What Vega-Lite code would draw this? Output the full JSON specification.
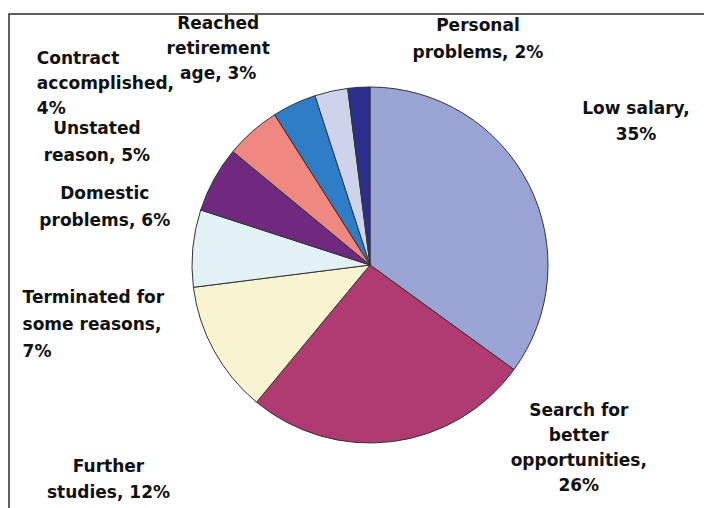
{
  "$schema": "https://vega.github.io/schema/vega-lite/v6.json",
  "width": 697,
  "height": 496,
  "autosize": "none",
  "padding": {"left": 9, "top": 14, "right": 0, "bottom": 0},
  "background": "white",
  "view": {"stroke": "#2b2b2b", "strokeWidth": 1.5, "fill": "white"},
  "data": {"values": [
    {"order": 1, "reason": "Low salary", "value": 35, "label": "Low salary,\n35%"},
    {"order": 2, "reason": "Search for better opportunities", "value": 26, "label": "Search for\nbetter\nopportunities,\n26%"},
    {"order": 3, "reason": "Further studies", "value": 12, "label": "Further\nstudies, 12%"},
    {"order": 4, "reason": "Terminated for some reasons", "value": 7, "label": "Terminated for\nsome reasons,\n7%"},
    {"order": 5, "reason": "Domestic problems", "value": 6, "label": "Domestic\nproblems, 6%"},
    {"order": 6, "reason": "Unstated reason", "value": 5, "label": "Unstated\nreason, 5%"},
    {"order": 7, "reason": "Contract accomplished", "value": 4, "label": "Contract\naccomplished,\n4%"},
    {"order": 8, "reason": "Reached retirement age", "value": 3, "label": "Reached\nretirement\nage, 3%"},
    {"order": 9, "reason": "Personal problems", "value": 2, "label": "Personal\nproblems, 2%"}
  ]},
  "transform": [
    {"stack": "value", "groupby": [], "sort": [{"field": "order", "order": "ascending"}], "as": ["v0", "v1"]}
  ],
  "layer": [
    {
      "mark": {"type": "arc", "x": {"expr": "width/2+12.5"}, "y": {"expr": "height/2+3"}, "outerRadius": 178, "stroke": "#333333", "strokeWidth": 1},
      "encoding": {
        "theta": {"field": "v0", "type": "quantitative", "scale": {"domain": [0, 100]}},
        "theta2": {"field": "v1"},
        "color": {"field": "reason", "type": "nominal", "legend": null,
          "scale": {
            "domain": ["Low salary", "Search for better opportunities", "Further studies", "Terminated for some reasons", "Domestic problems", "Unstated reason", "Contract accomplished", "Reached retirement age", "Personal problems"],
            "range": ["#9AA4D4", "#B03A72", "#F8F4D2", "#E2F1F3", "#6F2A80", "#EF8880", "#2F7DC6", "#CDD3EA", "#2B2E8C"]
          }}
      }
    },
    {
      "transform": [{"filter": "datum.order == 1"}],
      "mark": {"type": "text", "x": {"expr": "width/2+12.5"}, "y": {"expr": "height/2+3"}, "dx": 266, "dy": 44, "align": "center", "baseline": "middle", "lineBreak": "\n", "font": "DejaVu Sans", "fontWeight": "bold", "fontSize": 17, "lineHeight": 26, "color": "#111111"},
      "encoding": {"theta": {"field": "v0", "type": "quantitative", "scale": {"domain": [0, 100]}}, "radius": {"value": 200}, "text": {"field": "label"}}
    },
    {
      "transform": [{"filter": "datum.order == 2"}],
      "mark": {"type": "text", "x": {"expr": "width/2+12.5"}, "y": {"expr": "height/2+3"}, "dx": 47, "dy": 28, "align": "center", "baseline": "middle", "lineBreak": "\n", "font": "DejaVu Sans", "fontWeight": "bold", "fontSize": 17, "lineHeight": 25, "color": "#111111"},
      "encoding": {"theta": {"field": "v0", "type": "quantitative", "scale": {"domain": [0, 100]}}, "radius": {"value": 200}, "text": {"field": "label"}}
    },
    {
      "transform": [{"filter": "datum.order == 3"}],
      "mark": {"type": "text", "x": {"expr": "width/2+12.5"}, "y": {"expr": "height/2+3"}, "dx": -134, "dy": 48, "align": "center", "baseline": "middle", "lineBreak": "\n", "font": "DejaVu Sans", "fontWeight": "bold", "fontSize": 17, "lineHeight": 26, "color": "#111111"},
      "encoding": {"theta": {"field": "v0", "type": "quantitative", "scale": {"domain": [0, 100]}}, "radius": {"value": 200}, "text": {"field": "label"}}
    },
    {
      "transform": [{"filter": "datum.order == 4"}],
      "mark": {"type": "text", "x": {"expr": "width/2+12.5"}, "y": {"expr": "height/2+3"}, "dx": -149, "dy": 8, "align": "left", "baseline": "middle", "lineBreak": "\n", "font": "DejaVu Sans", "fontWeight": "bold", "fontSize": 17, "lineHeight": 27, "color": "#111111"},
      "encoding": {"theta": {"field": "v0", "type": "quantitative", "scale": {"domain": [0, 100]}}, "radius": {"value": 200}, "text": {"field": "label"}}
    },
    {
      "transform": [{"filter": "datum.order == 5"}],
      "mark": {"type": "text", "x": {"expr": "width/2+12.5"}, "y": {"expr": "height/2+3"}, "dx": -75, "dy": -9, "align": "center", "baseline": "middle", "lineBreak": "\n", "font": "DejaVu Sans", "fontWeight": "bold", "fontSize": 17, "lineHeight": 27, "color": "#111111"},
      "encoding": {"theta": {"field": "v0", "type": "quantitative", "scale": {"domain": [0, 100]}}, "radius": {"value": 200}, "text": {"field": "label"}}
    },
    {
      "transform": [{"filter": "datum.order == 6"}],
      "mark": {"type": "text", "x": {"expr": "width/2+12.5"}, "y": {"expr": "height/2+3"}, "dx": -119, "dy": -9, "align": "center", "baseline": "middle", "lineBreak": "\n", "font": "DejaVu Sans", "fontWeight": "bold", "fontSize": 17, "lineHeight": 27, "color": "#111111"},
      "encoding": {"theta": {"field": "v0", "type": "quantitative", "scale": {"domain": [0, 100]}}, "radius": {"value": 200}, "text": {"field": "label"}}
    },
    {
      "transform": [{"filter": "datum.order == 7"}],
      "mark": {"type": "text", "x": {"expr": "width/2+12.5"}, "y": {"expr": "height/2+3"}, "dx": -226, "dy": -37, "align": "left", "baseline": "middle", "lineBreak": "\n", "font": "DejaVu Sans", "fontWeight": "bold", "fontSize": 17, "lineHeight": 25, "color": "#111111"},
      "encoding": {"theta": {"field": "v0", "type": "quantitative", "scale": {"domain": [0, 100]}}, "radius": {"value": 200}, "text": {"field": "label"}}
    },
    {
      "transform": [{"filter": "datum.order == 8"}],
      "mark": {"type": "text", "x": {"expr": "width/2+12.5"}, "y": {"expr": "height/2+3"}, "dx": -90, "dy": -51, "align": "center", "baseline": "middle", "lineBreak": "\n", "font": "DejaVu Sans", "fontWeight": "bold", "fontSize": 17, "lineHeight": 25, "color": "#111111"},
      "encoding": {"theta": {"field": "v0", "type": "quantitative", "scale": {"domain": [0, 100]}}, "radius": {"value": 200}, "text": {"field": "label"}}
    },
    {
      "transform": [{"filter": "datum.order == 9"}],
      "mark": {"type": "text", "x": {"expr": "width/2+12.5"}, "y": {"expr": "height/2+3"}, "dx": 133, "dy": -41, "align": "center", "baseline": "middle", "lineBreak": "\n", "font": "DejaVu Sans", "fontWeight": "bold", "fontSize": 17, "lineHeight": 27, "color": "#111111"},
      "encoding": {"theta": {"field": "v0", "type": "quantitative", "scale": {"domain": [0, 100]}}, "radius": {"value": 200}, "text": {"field": "label"}}
    }
  ]
}
